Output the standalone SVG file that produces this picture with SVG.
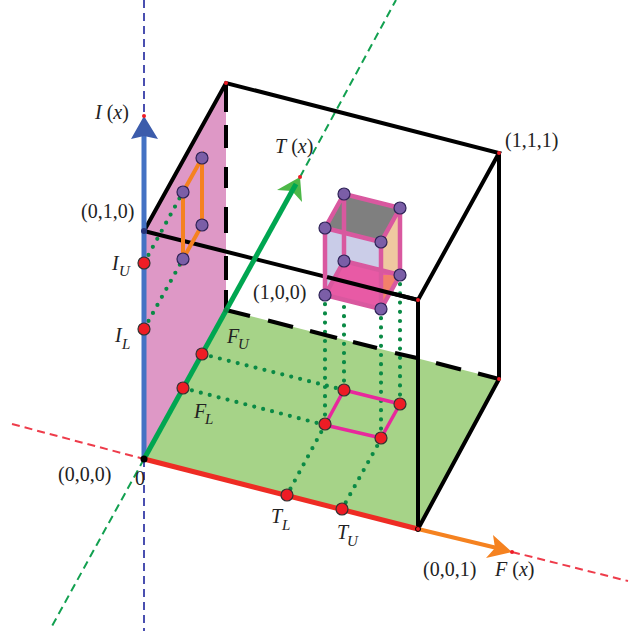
<svg xmlns="http://www.w3.org/2000/svg" width="629" height="631" viewBox="0 0 629 631">
<style>
text{font-family:"Liberation Serif",serif;font-size:20px;fill:#222}
.i{font-style:italic}
.s{font-size:15px;font-style:italic}
.k{fill:none;stroke:#000;stroke-width:4;stroke-linecap:round}
.kd{fill:none;stroke:#000;stroke-width:4}
.dot{fill:none;stroke:#0a8a45;stroke-width:4.2;stroke-dasharray:0 9.2;stroke-linecap:round}
.r{fill:#ee1c25;stroke:#333;stroke-width:1.2}
.p{fill:#7b5ea7;stroke:#2e2357;stroke-width:1.2}
.m{fill:none;stroke:#d9589f;stroke-width:4.500;stroke-linejoin:round}
.fl{fill:none;stroke:#e8289c;stroke-width:3.500}
.o{fill:none;stroke:#f58220;stroke-width:4}
</style>
<g id="axes">
<path d="M144 0V116M144 459V631" fill="none" stroke="#4a4fb0" stroke-width="2" stroke-dasharray="8 5"/>
<path d="M300 177L396 0M144 459L52 626" fill="none" stroke="#12a050" stroke-width="2" stroke-dasharray="8 5"/>
<path d="M12 424L144 459M512 552L628 581" fill="none" stroke="#ee3b4a" stroke-width="2" stroke-dasharray="8 5"/>
</g>
<g id="faces">
<polygon points="144,231 226,83 226,310 144,459" fill="#de98c6"/>
<polygon points="144,459 226,310 499,379 418,529" fill="#a6d388"/>
</g>
<g id="connectors">
<path class="dot" d="M144 263L183 192M144 329L183 259M202 354L344 390M183 388L325 425M325 295V425L287 495M344 261V390M381 309V439L342 509M400 275V404"/>
<path class="k" d="M144 231L226 83L499 153L418 300L144 231M499 153V379M418 300V529M418 529L499 379"/>
<path class="kd" d="M226 83V112M226 125V148M226 167V188M226 207V233M226 256V280M226 290V310M226 310L250 316M268 320.500L293 327M310 331L337 338M353 342L377 348M395 353L417 358M436 363L461 369.500M478 373.500L499 379"/>
<path d="M144 459V130" fill="none" stroke="#4472c4" stroke-width="5"/>
<polygon points="144,116 158,139 144,136 131,139" fill="#3c5cab"/>
<polygon points="300,177 302,202 292,191 277,190" fill="#4db848"/>
<path d="M144 459L296 184" fill="none" stroke="#00a651" stroke-width="5"/>
<path d="M144 459L418 529" fill="none" stroke="#ee2c24" stroke-width="5"/>
<path d="M418 529L497 548" fill="none" stroke="#f58220" stroke-width="4"/>
<polygon points="512,552 486,558 495,548 493,535" fill="#f58220"/>
<path class="o" d="M202 158L183 192L183 259L202 225ZM202 158V225"/>
</g>
<g id="box">
<polygon points="325,228 344,194 344,261 325,295" fill="#c9cde8"/>
<polygon points="344,194 400,208 400,275 344,261" fill="#d8d8ea"/>
<polygon points="325,228 381,242 381,309 325,295" fill="#c9cbe8" fill-opacity=".85"/>
<polygon points="344,194 400,208 381,242 325,228" fill="#7f7f7f"/>
<polygon points="400,208 381,242 381,309 400,275" fill="#efc9a0"/>
<polygon points="344,261 400,275 381,309 325,295" fill="#e85aa5"/>
<polygon points="381,275 400,275 381,309" fill="#f58a5c" fill-opacity=".8"/>
<path class="m" d="M344 194L400 208L381 242L325 228ZM344 261L400 275L381 309L325 295ZM325 228V295M344 194V261M381 242V309M400 208V275"/>
<path d="M327 277L418 300" fill="none" stroke="#000" stroke-width="4"/>
</g>
<g id="floor-rect"><path class="fl" d="M344 390L400 404L381 438L325 425Z"/></g>
<g id="points">
<circle class="p" cx="344" cy="194" r="6"/><circle class="p" cx="400" cy="208" r="6"/>
<circle class="p" cx="325" cy="228" r="6"/><circle class="p" cx="381" cy="242" r="6"/>
<circle class="p" cx="344" cy="261" r="6"/><circle class="p" cx="400" cy="275" r="6"/>
<circle class="p" cx="325" cy="295" r="6"/><circle class="p" cx="381" cy="309" r="6"/>
<circle class="p" cx="202" cy="158" r="6"/><circle class="p" cx="183" cy="192" r="6"/>
<circle class="p" cx="202" cy="225" r="6"/><circle class="p" cx="183" cy="259" r="6"/>
<circle class="r" cx="344" cy="390" r="6"/><circle class="r" cx="400" cy="404" r="6"/>
<circle class="r" cx="325" cy="424" r="6"/><circle class="r" cx="381" cy="438" r="6"/>
<circle class="r" cx="144" cy="263" r="6"/><circle class="r" cx="144" cy="329" r="6"/>
<circle class="r" cx="202" cy="354" r="6"/><circle class="r" cx="183" cy="388" r="6"/>
<circle class="r" cx="287" cy="495" r="6"/><circle class="r" cx="342" cy="509" r="6"/>
<circle cx="144" cy="459" r="3.500" fill="#000"/>
<circle cx="144" cy="231" r="3" fill="#26337a"/>
<circle cx="226" cy="310" r="2.500" fill="#0a8a45"/>
<circle cx="226" cy="83" r="2" fill="#ee1c25"/>
<circle cx="499" cy="153" r="2" fill="#ee1c25"/>
<circle cx="499" cy="379" r="2" fill="#ee1c25"/>
<circle cx="418" cy="300" r="2" fill="#ee1c25"/>
<circle cx="144" cy="116" r="2" fill="#ee1c25"/>
<circle cx="300" cy="177" r="2" fill="#ee1c25"/>
<circle cx="512" cy="552" r="2" fill="#ee1c25"/>
<circle cx="418" cy="529" r="2.500" fill="#ee1c25" stroke="#000"/>
</g>
<g id="labels">
<text x="95" y="119"><tspan class="i">I</tspan> (<tspan class="i">x</tspan>)</text>
<text x="275" y="153"><tspan class="i">T</tspan> (<tspan class="i">x</tspan>)</text>
<text x="505" y="147">(1,1,1)</text>
<text x="81" y="218">(0,1,0)</text>
<text x="253" y="299">(1,0,0)</text>
<text x="58" y="481">(0,0,0)</text>
<text x="135" y="485">0</text>
<text x="423" y="576">(0,0,1)</text>
<text x="495" y="576"><tspan class="i">F</tspan> (<tspan class="i">x</tspan>)</text>
<text class="i" x="112" y="270">I</text><text class="s" x="119" y="276">U</text>
<text class="i" x="115" y="342">I</text><text class="s" x="122" y="349">L</text>
<text class="i" x="227" y="343">F</text><text class="s" x="238" y="349">U</text>
<text class="i" x="194" y="418">F</text><text class="s" x="205" y="424">L</text>
<text class="i" x="271" y="523">T</text><text class="s" x="282" y="530">L</text>
<text class="i" x="337" y="539">T</text><text class="s" x="347" y="546">U</text>
</g>
</svg>
